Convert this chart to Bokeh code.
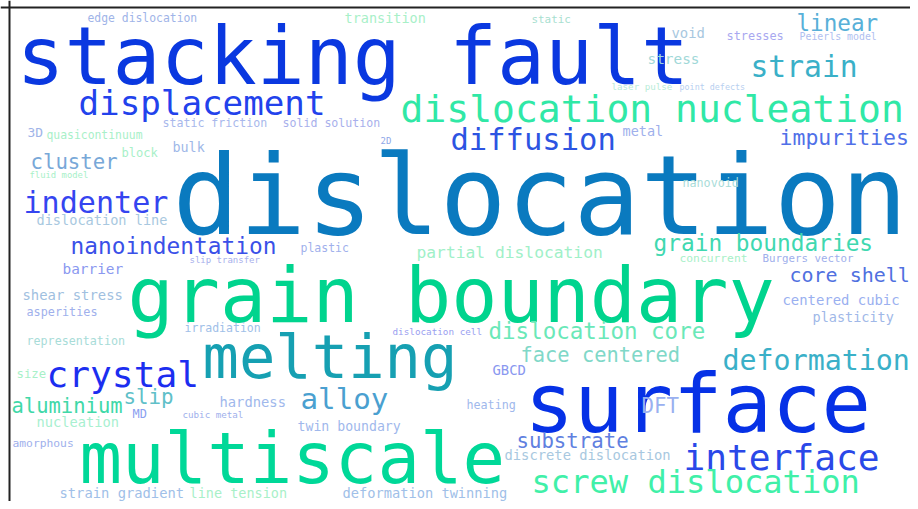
from bokeh.plotting import figure
from bokeh.models import Range1d, Span, ColumnDataSource
from bokeh.core.properties import value
from bokeh.embed import file_html
from bokeh.resources import INLINE

# word cloud terms and their weights (font size, px)
words = ["dislocation", "surface", "stacking fault", "grain boundary", "multiscale", "melting",
         "dislocation nucleation", "crystal", "interface", "displacement", "screw dislocation",
         "diffusion", "indenter", "strain", "deformation", "alloy",
         "nanoindentation", "grain boundaries", "impurities", "linear", "dislocation core",
         "slip", "aluminium", "substrate", "core shell", "face centered", "cluster", "DFT",
         "partial dislocation",
         "edge dislocation", "transition", "static", "void", "stresses", "Peierls model",
         "stress", "laser pulse", "point defects", "static friction", "solid solution",
         "3D", "quasicontinuum", "block", "bulk", "metal", "nanovoid", "fluid model",
         "dislocation line", "plastic", "slip transfer", "barrier", "concurrent",
         "Burgers vector", "centered cubic", "plasticity", "shear stress", "asperities",
         "irradiation", "dislocation cell", "representation", "GBCD", "size", "hardness",
         "MD", "cubic metal", "heating", "nucleation", "twin boundary", "amorphous",
         "discrete dislocation", "strain gradient", "line tension", "deformation twinning",
         "2D"]
weights = [111, 82.2, 79.8, 76.8, 70.7, 60.5,
           38, 36.2, 36.2, 34.2, 32.1,
           30.5, 30.1, 29.7, 28.3, 29.2,
           22.8, 22.8, 21.5, 22.6, 22.5,
           20.8, 20.5, 20.7, 20, 20.4, 20.7, 20.8,
           16.3,
           11.4, 13.5, 10.9, 13.9, 11.9, 9.9,
           14.4, 9.2, 8.4, 11.6, 11.6,
           12.9, 11.4, 12.1, 13.4, 13.5, 11.7, 8.9,
           13.6, 11.5, 9, 14.4, 11.3,
           10.8, 13.9, 13.5, 13.9, 11.8,
           11.5, 9.3, 11.7, 13.9, 12.3, 13.8,
           11.9, 9.2, 11.7, 13.7, 13.2, 11.3,
           13.8, 13.8, 13.5, 13.7,
           9]
colors = ["#0a7abf", "#0631e6", "#0a38e0", "#00d48e", "#00d898", "#16a0b2",
          "#30e8a6", "#1c2ef0", "#2a48e8", "#2242ec", "#40f0a8",
          "#2c54e2", "#3545f0", "#3ab0c8", "#3ab0c8", "#4aa0d0",
          "#3a50e8", "#40d8b0", "#5070e8", "#58b0d8", "#6ae8b8",
          "#60c0c8", "#40d8a8", "#6080e0", "#5070e0", "#80d8c8", "#78a8d8", "#9ab0f0",
          "#a0f0c8",
          "#a0b4e8", "#a8f0c8", "#a8e0d0", "#a8c8e0", "#a8a8f0", "#b0c0f0",
          "#a0d8d8", "#b8ecd8", "#b8d0f0", "#a8b8ec", "#a8b0ec",
          "#a0b4e8", "#a8f0c8", "#a8f0c8", "#a0b8e8", "#a0b0ec", "#a8dcd8", "#a8f0c8",
          "#a8c8e0", "#a0b0ec", "#a8b0ec", "#8a98f0", "#a8f0c8",
          "#a0b0ec", "#9ab0f0", "#a0b8e8", "#a0c0e0", "#a0b0ec",
          "#a0c0e8", "#9aa0f0", "#a8dcd8", "#8a98f0", "#a8f0c8", "#a0b8ec",
          "#8aa0f0", "#a0b0ec", "#a0b8ec", "#a8f0d0", "#a0b8ec", "#a0b0ec",
          "#a8c8e0", "#a0c0e8", "#a8f0c8", "#a0c0e8",
          "#90a8e8"]

# layout of the cloud: left edge and baseline of every word (screen pixels)
layout_x = [172, 524, 16, 127, 79, 202,
            400, 46, 683, 78, 531,
            450, 23, 750, 722, 300,
            70, 653, 779, 796, 488,
            123, 11, 516, 789, 520, 30, 641,
            416,
            87, 344, 531, 671, 726, 799,
            647, 611, 679, 162, 282,
            27, 46, 121, 172, 622, 682, 29,
            36, 300, 189, 62, 679,
            762, 782, 812, 22, 26,
            184, 392, 26, 492, 16, 219,
            132, 182, 466, 36, 297, 12,
            504, 59, 189, 342,
            380]
layout_base = [228, 428, 80, 318, 479, 375,
               120, 385, 468, 113, 491,
               148, 211, 75, 368, 407,
               252, 249, 143, 29, 337,
               403, 412, 447, 280, 361, 168, 412,
               257,
               21, 22, 22, 37, 39, 39,
               63, 89, 89, 126, 126,
               136, 138, 156, 151, 135, 186, 177,
               224, 251, 262, 273, 261,
               261, 304, 321, 299, 315,
               331, 334, 344, 374, 377, 406,
               417, 417, 408, 426, 430, 446,
               459, 497, 497, 497,
               143]

# renderer places "alphabetic" text a little low; lift by a fraction of the em
anchor_y = [b - 0.30 * w for b, w in zip(layout_base, weights)]

src = ColumnDataSource(dict(x=layout_x, y=anchor_y, text=words,
                            size=[f"{w}px" for w in weights], color=colors))

p = figure(width=910, height=501, x_range=Range1d(0, 910), y_range=Range1d(501, 0),
           output_backend="svg", toolbar_location=None, min_border=0)
p.axis.visible = False
p.grid.visible = False
p.outline_line_color = None
p.background_fill_color = "white"
p.border_fill_color = "white"

p.text(x="x", y="y", text="text", source=src, text_font_size="size", text_color="color",
       text_baseline="alphabetic", text_align="left", text_font=value("DejaVu Sans Mono"))

p.add_layout(Span(location=9, dimension="height", line_color="#222222", line_width=2))
p.add_layout(Span(location=7, dimension="width", line_color="#222222", line_width=2))

open("out.html", "w").write(file_html(p, INLINE))
